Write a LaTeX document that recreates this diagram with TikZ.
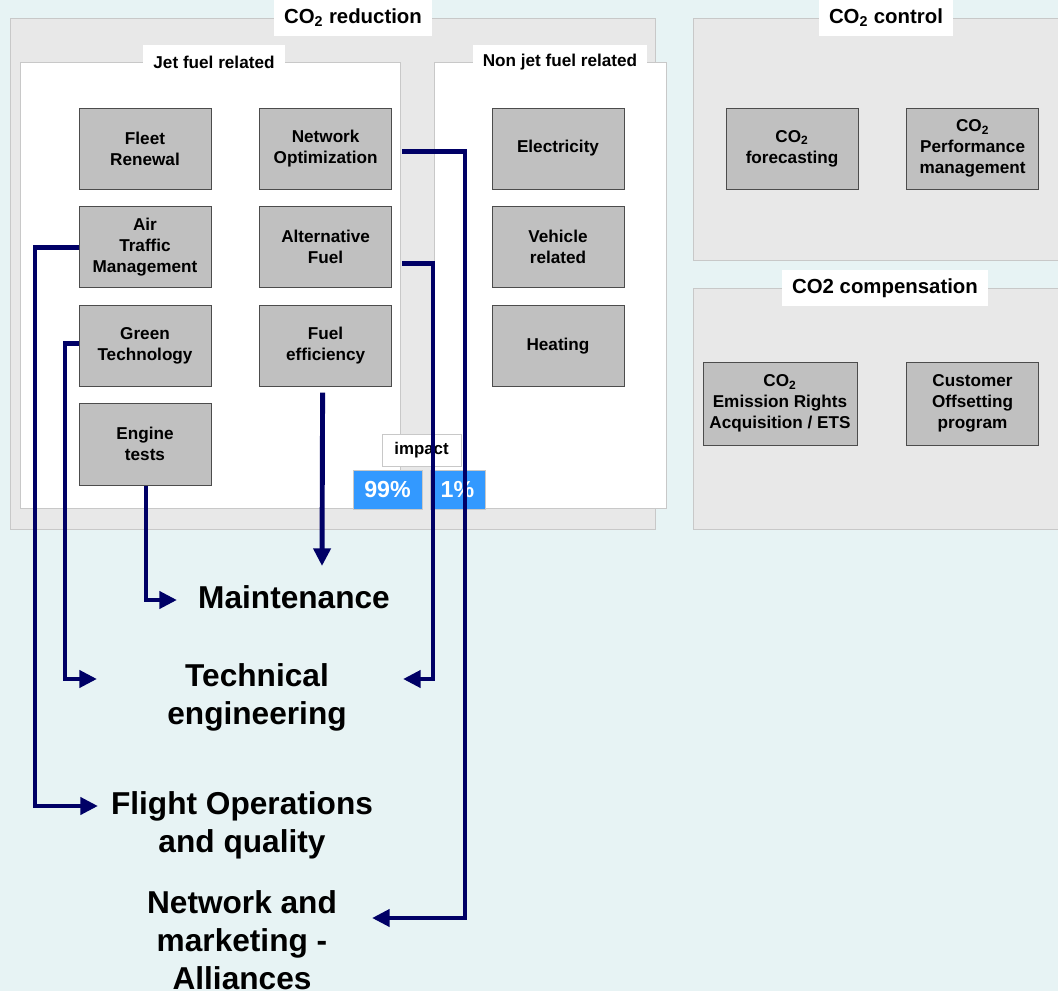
\documentclass[tikz,border=0pt]{standalone}
\usepackage{fontspec}
\setmainfont{Liberation Sans}
\usetikzlibrary{positioning}
\usetikzlibrary{calc}
\usetikzlibrary{arrows.meta}
\definecolor{bgteal}{HTML}{E7F3F4}
\definecolor{panelgray}{HTML}{E8E8E8}
\definecolor{panelline}{HTML}{C8C8C8}
\definecolor{boxgray}{HTML}{C0C0C0}
\definecolor{navy}{HTML}{000066}
\definecolor{impactblue}{HTML}{3399FF}
\tikzset{
panel/.style={fill=panelgray,draw=panelline,line width=0.6pt},
subpanel/.style={fill=white,draw=panelline,line width=0.6pt},
maintitle/.style={
  fill=white,
  inner xsep=0.25cm,inner ysep=0pt,
  minimum height=0.9cm,
  font=\fontsize{14.5}{16}\selectfont\bfseries
  },
subtitle/.style={maintitle,minimum height=0.83cm,font=\fontsize{12.2}{14}\selectfont\bfseries},
act/.style={
  rectangle,
  inner sep=1pt,
  minimum width=3.3cm,
  minimum height=2.03cm,
  align=center,
  draw=black!70,
  fill=boxgray,
  font=\fontsize{12.2}{15}\selectfont\bfseries
  },
pct/.style={
  fill=impactblue,draw=panelline,text=white,
  inner sep=0pt,minimum height=0.98cm,
  font=\fontsize{16.5}{18}\selectfont\bfseries
  },
target/.style={align=center,font=\fontsize{22.5}{27}\selectfont\bfseries},
flow/.style={draw=navy,line width=3.5pt,-{Triangle[length=4.4mm,width=4.2mm]}}
}

\begin{document}
\begin{tikzpicture}[x=0.025cm,y=-0.025cm,node distance=0.42cm and 1.2cm]
            \path[use as bounding box,clip] (0,0) rectangle (1058,991);
            \fill[bgteal] (0,0) rectangle (1058,991);
            % panels
            \draw[panel] (10,18) rectangle (655,529);
            \draw[subpanel] (20,62) rectangle (400,508);
            \draw[subpanel] (434,62) rectangle (666,508);
            \draw[panel] (693,18) rectangle (1070,260);
            \draw[panel] (693,288) rectangle (1070,529);
            \node[maintitle] (tred) at (353,18) {CO\textsubscript{2} reduction};
            \node[subtitle] (tjet) at (214,62) {Jet fuel related};
            \node[subtitle] (tnon) at (560,62) {Non jet fuel related};
            \node[maintitle] (tctl) at (886,18) {CO\textsubscript{2} control};
            \node[maintitle] (tcmp) at (885,288) {CO2 compensation};
            % jet fuel related
            \node[act] (fleet) at (145,148.5) {Fleet\\Renewal};
            \node[act] (atm) [below=of fleet] {Air\\Traffic\\Management};
            \node[act] (green) [below=of atm] {Green\\Technology};
            \node[act] (engine) [below=of green] {Engine\\tests};
            \node[act] (netopt) [right=of fleet] {Network\\Optimization};
            \node[act] (altfuel) [below=of netopt] {Alternative\\Fuel};
            \node[act] (fueleff) [below=of altfuel] {Fuel\\efficiency};
            % non jet fuel related
            \node[act] (elec) at (558,148.5) {Electricity};
            \node[act] (vehicle) [below=of elec] {Vehicle\\related};
            \node[act] (heating) [below=of vehicle] {Heating};
            % control and compensation
            \node[act] (forecast) at (792,148.5) {CO\textsubscript{2}\\forecasting};
            \node[act] (perf) [right=of forecast] {CO\textsubscript{2}\\Performance\\management};
            \node[act,minimum width=3.85cm,minimum height=2.08cm] (ets) at (780,403.5) {CO\textsubscript{2}\\Emission Rights\\Acquisition / ETS};
            \node[act,minimum height=2.08cm] (offset) at (972.5,403.5) {Customer\\Offsetting\\program};
            % impact
            \node[fill=white,draw=panelline,minimum width=1.98cm,minimum height=0.8cm,inner sep=0pt,
                  font=\fontsize{12}{14}\selectfont\bfseries] (impact) at (421.5,450) {impact};
            \node[pct,minimum width=1.73cm] (p99) at (387.5,489.5) {99\%};
            \node[pct,minimum width=1.38cm] (p1) at (457.5,489.5) {1\%};
            % departments
            \node[target] (maint) at (294,597) {Maintenance};
            \node[target] (techeng) at (257,697) {Technical\\engineering};
            \node[target] (flightops) at (242,825) {Flight Operations\\and quality};
            \node[target] (netmkt) at (242,940) {Network and\\marketing -\\Alliances};
            \coordinate (tipmA) at (322,566);
            \coordinate (tipmB) at (177,600);
            \coordinate (tiptL) at (97,679);
            \coordinate (tiptR) at (403,679);
            \coordinate (tipfo) at (98,806);
            \coordinate (tipnm) at (372,918);
            % connectors
            \draw[flow] ($(netopt.east)+(10,3)$) -| (465,918) -- (tipnm);
            \draw[flow] ($(altfuel.east)+(10,16)$) -| (433,679) -- (tiptR);
            \draw[flow] ($(fueleff.south)+(-3,6)$) -- (tipmA);
            \draw[flow] ($(engine.south)+(1,1)$) |- (tipmB);
            \draw[flow] ($(green.west)+(0,-2)$) -| (65,679) -- (tiptL);
            \draw[flow] (atm.west) -| (35,806) -- (tipfo);
        \end{tikzpicture}
\end{document}
